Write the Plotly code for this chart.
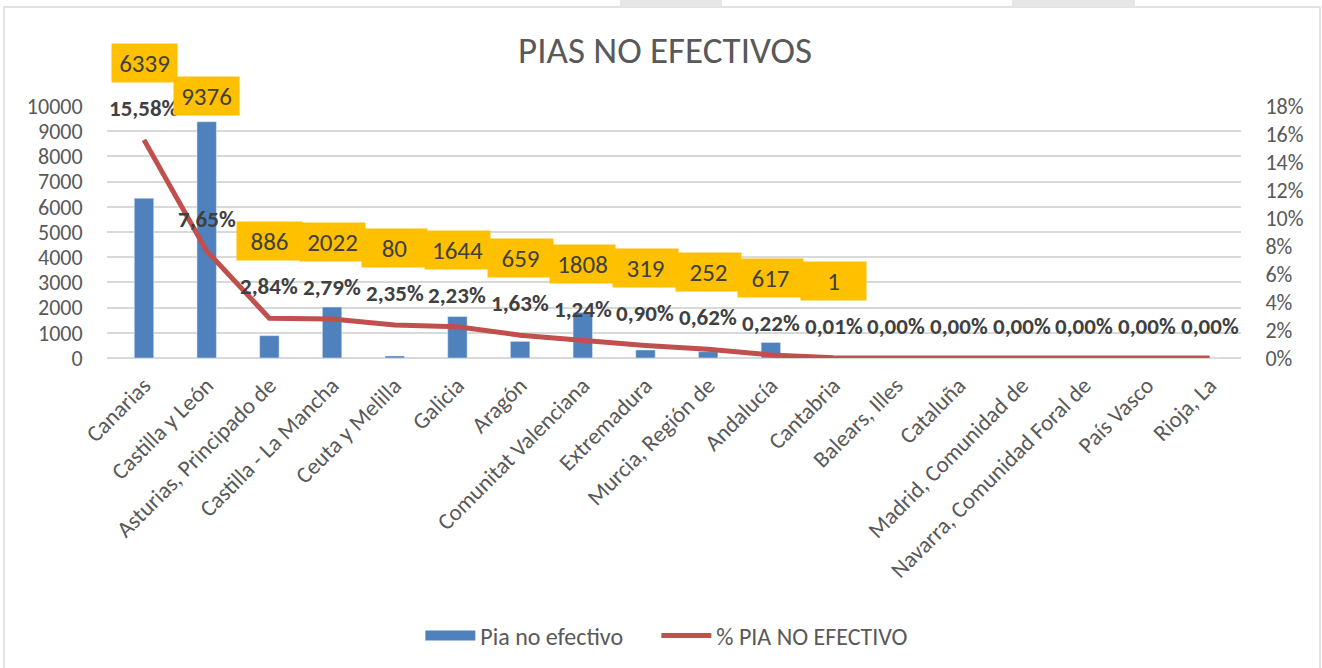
import plotly.graph_objects as go

# Data
comunidades = [
    "Canarias", "Castilla y León", "Asturias, Principado de", "Castilla - La Mancha",
    "Ceuta y Melilla", "Galicia", "Aragón", "Comunitat Valenciana", "Extremadura",
    "Murcia, Región de", "Andalucía", "Cantabria", "Balears, Illes", "Cataluña",
    "Madrid, Comunidad de", "Navarra, Comunidad Foral de", "País Vasco", "Rioja, La",
]
pia_no_efectivo = [6339, 9376, 886, 2022, 80, 1644, 659, 1808, 319, 252, 617, 1,
                   0, 0, 0, 0, 0, 0]
pct_no_efectivo = [15.58, 7.65, 2.84, 2.79, 2.35, 2.23, 1.63, 1.24, 0.90, 0.62, 0.22, 0.01,
                   0.00, 0.00, 0.00, 0.00, 0.00, 0.00]

FONT = "Carlito, Calibri, 'Open Sans', sans-serif"
GREY = "#595959"
BLUE = "#4F81BD"
RED = "#C0504D"

W, H = 1322, 668
# plot area in pixels
L, R, T, B = 107, 1241, 106, 358


def px_x(x):
    return (x - L) / (R - L)


def px_y(y):
    return (B - y) / (B - T)


fig = go.Figure()

fig.add_trace(go.Bar(
    x=comunidades, y=pia_no_efectivo, name="Pia no efectivo",
    marker_color=BLUE, yaxis="y", showlegend=False,
))
fig.add_trace(go.Scatter(
    x=comunidades, y=pct_no_efectivo, name="% PIA NO EFECTIVO",
    mode="lines", line=dict(color=RED, width=5), yaxis="y2", showlegend=False,
))
# legend-only entries (Excel draws the bar key as a wide block)
fig.add_trace(go.Scatter(
    x=[None], y=[None], name="Pia no efectivo", mode="lines",
    line=dict(color=BLUE, width=15), legend="legend",
))
fig.add_trace(go.Scatter(
    x=[None], y=[None], name="% PIA NO EFECTIVO", mode="lines",
    line=dict(color=RED, width=5), yaxis="y2", legend="legend2",
))

annotations = []
# percentage labels above the line
for c, p in zip(comunidades, pct_no_efectivo):
    annotations.append(dict(
        x=c, y=p, xref="x", yref="y2", yshift=32, showarrow=False,
        text="<b>" + f"{p:.2f}".replace(".", ",") + "%</b>",
        font=dict(family=FONT, size=23, color="#404040"),
    ))
# bar value labels in yellow boxes (zero bars have no label)
for c, v, p in zip(comunidades, pia_no_efectivo, pct_no_efectivo):
    if v == 0:
        continue
    bar_top_pct = v / 10000 * 18
    if bar_top_pct > p + 5.5:
        # label would sit on the bar -> Excel moved it above the bar
        a = dict(x=c, y=v, yref="y", yshift=26)
    else:
        a = dict(x=c, y=p, yref="y2", yshift=77)
    a.update(dict(
        xref="x", showarrow=False, text=str(v),
        font=dict(family=FONT, size=25, color="#404040"),
        bgcolor="#FFC000", borderpad=3, width=59, height=32,
    ))
    annotations.append(a)

shapes = [
    # outer chart border
    dict(type="rect", xref="paper", yref="paper",
         x0=px_x(4), x1=px_x(1320), y0=px_y(H + 5), y1=px_y(7),
         line=dict(color="#D9D9D9", width=1.5), layer="below"),
    # grey tabs above the chart
    dict(type="rect", xref="paper", yref="paper",
         x0=px_x(620), x1=px_x(722), y0=px_y(7), y1=px_y(0),
         line=dict(width=0), fillcolor="#E6E6E6"),
    dict(type="rect", xref="paper", yref="paper",
         x0=px_x(1012), x1=px_x(1135), y0=px_y(7), y1=px_y(0),
         line=dict(width=0), fillcolor="#E6E6E6"),
]

legend_style = dict(orientation="h", xanchor="left",
                    yref="container", y=1 - 636 / H, yanchor="middle",
                    font=dict(family=FONT, size=24, color=GREY), itemwidth=50)

fig.update_layout(
    width=W, height=H,
    margin=dict(l=L, r=W - R, t=T, b=H - B, autoexpand=False),
    paper_bgcolor="white", plot_bgcolor="white",
    font=dict(family=FONT, color=GREY),
    title=dict(text="PIAS NO EFECTIVOS", x=665 / W, xanchor="center",
               y=1 - 50 / H, yanchor="middle",
               font=dict(family=FONT, size=37, color=GREY)),
    bargap=0.69,
    showlegend=True,
    legend=dict(x=px_x(426) - 0.005, **legend_style),
    legend2=dict(x=px_x(662) - 0.005, **legend_style),
    xaxis=dict(tickangle=-45, tickfont=dict(family=FONT, size=23, color=GREY),
               showgrid=False, showline=False, ticks="outside", ticklen=4,
               tickcolor="rgba(0,0,0,0)", automargin=False),
    yaxis=dict(range=[0, 10000], dtick=1000, tickformat="d", showgrid=True,
               gridcolor="#D9D9D9", gridwidth=1.5, zeroline=True,
               zerolinecolor="#D9D9D9", zerolinewidth=1.5,
               tickfont=dict(family=FONT, size=22, color=GREY),
               ticks="outside", ticklen=19, tickcolor="rgba(0,0,0,0)",
               automargin=False),
    yaxis2=dict(range=[0, 18], dtick=2, overlaying="y", side="right", showgrid=False,
                zeroline=False, ticksuffix="%", automargin=False,
                tickfont=dict(family=FONT, size=22, color=GREY),
                ticks="outside", ticklen=19, tickcolor="rgba(0,0,0,0)"),
    annotations=annotations,
    shapes=shapes,
)

# drop the default 8px page margin so the figure fills the window exactly
fig.write_html("out.html", config={"displayModeBar": False},
               post_script="document.body.style.margin = '0';")
